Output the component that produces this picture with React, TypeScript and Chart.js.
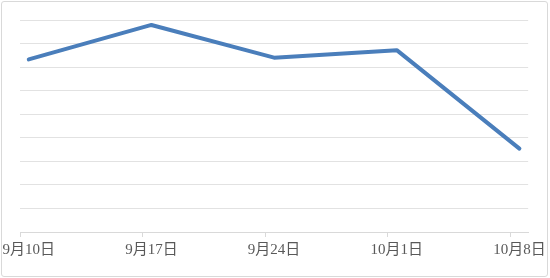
import React, { useEffect, useRef } from 'react';
import { Chart, registerables } from 'chart.js';
Chart.register(...registerables);

const categories = ['9月10日', '9月17日', '9月24日', '10月1日', '10月8日'];
const dayOffsets = [0, 7, 14, 21, 28];
const values = [7.33, 8.79, 7.4, 7.72, 3.54];
const axisDays = 29;
const yMin = 0;
const yMax = 9;

export default function App() {
  const ref = useRef<HTMLCanvasElement | null>(null);
  useEffect(() => {
    if (!ref.current) return;
    const points = dayOffsets.map((d, i) => ({ x: d + 0.5, y: values[i] }));
    const tickValues: number[] = [];
    dayOffsets.forEach((d) => {
      tickValues.push(d);
      tickValues.push(d + 0.5);
    });
    const chart = new Chart(ref.current, {
      type: 'line',
      data: {
        datasets: [
          {
            data: points,
            borderColor: '#4a7ebb',
            borderWidth: 4,
            pointRadius: 0,
            pointHoverRadius: 0,
            borderJoinStyle: 'round',
            borderCapStyle: 'round',
            tension: 0,
            fill: false,
          },
        ],
      },
      options: {
        animation: false,
        responsive: false,
        maintainAspectRatio: false,
        layout: { padding: { left: 20, right: 20, top: 20, bottom: 15 } },
        plugins: { legend: { display: false }, tooltip: { enabled: false } },
        scales: {
          x: {
            type: 'linear',
            min: 0,
            max: axisDays,
            afterBuildTicks: (axis: any) => {
              axis.ticks = tickValues.map((v) => ({ value: v }));
            },
            grid: {
              drawOnChartArea: false,
              drawTicks: true,
              tickLength: 5,
              tickColor: (ctx: any) =>
                ctx.tick && Number.isInteger(ctx.tick.value) ? '#d9d9d9' : 'rgba(0,0,0,0)',
            },
            border: { display: true, color: '#d9d9d9', width: 1 },
            ticks: {
              autoSkip: false,
              maxRotation: 0,
              minRotation: 0,
              padding: 4,
              color: '#595959',
              font: { family: "'Liberation Serif', 'Noto Sans CJK SC', serif", size: 15 },
              callback: (value: any) => {
                const v = Number(value);
                if (Number.isInteger(v)) return '';
                const idx = dayOffsets.indexOf(v - 0.5);
                return idx >= 0 ? categories[idx] : '';
              },
            },
          },
          y: {
            min: yMin,
            max: yMax,
            ticks: { display: false, stepSize: 1 },
            grid: { color: '#e2e2e2', lineWidth: 1, drawTicks: false },
            border: { display: false },
          },
        },
      },
    });
    return () => chart.destroy();
  }, []);
  return (
    <div style={{ position: 'fixed', left: 0, top: 0, width: 550, height: 278, background: '#fff' }}>
      <div
        style={{
          position: 'absolute',
          left: 1,
          top: 1,
          width: 547,
          height: 276,
          border: '1px solid #d9d9d9',
          borderRadius: 3,
          boxSizing: 'border-box',
        }}
      />
      <canvas ref={ref} width={550} height={278} style={{ position: 'absolute', left: 0, top: 0 }} />
    </div>
  );
}
